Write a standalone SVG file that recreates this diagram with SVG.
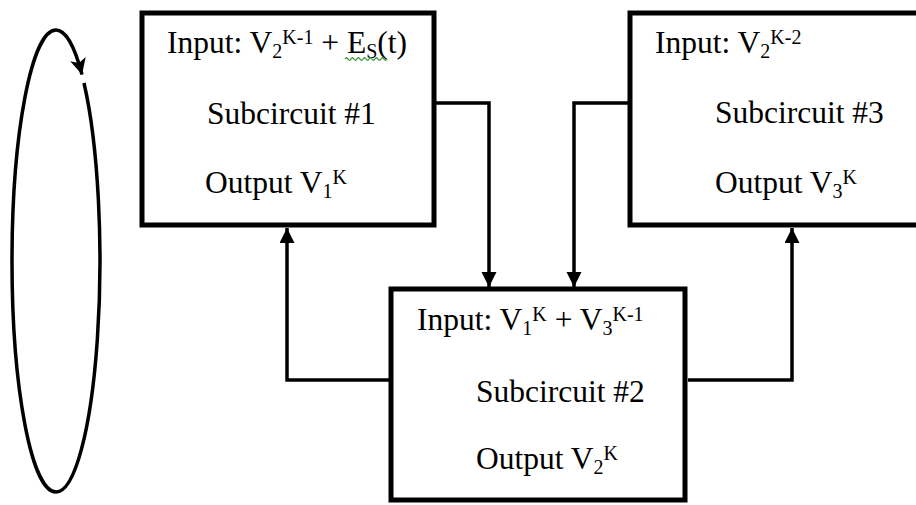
<svg xmlns="http://www.w3.org/2000/svg" width="916" height="505" viewBox="0 0 916 505">
<style>
.box{fill:#fff;stroke:#000;stroke-width:5}
.lbl{font-family:"Liberation Serif","Times New Roman",serif;font-size:31.5px;fill:#000}
.s{font-size:20px}
.conn{fill:none;stroke:#000;stroke-width:3.5;stroke-linejoin:miter}
.loop{fill:none;stroke:#000;stroke-width:3.5}
.squig{fill:none;stroke:#3a9a3a;stroke-width:1.3}
</style>
<defs>
<marker id="ah" markerUnits="userSpaceOnUse" markerWidth="16" markerHeight="16" refX="15" refY="7.5" orient="auto">
<path d="M0,0 L15,7.5 L0,15 z" fill="#000"/>
</marker>
<marker id="ah2" markerUnits="userSpaceOnUse" markerWidth="18" markerHeight="18" refX="16" refY="8" orient="auto">
<path d="M0,0 L16,8 L0,16 L4,8 z" fill="#000"/>
</marker>
</defs>
<rect width="916" height="505" fill="#fff"/>
<g id="connectors">
<path class="conn" d="M436,103 H489 V287" marker-end="url(#ah)"/>
<path class="conn" d="M628,103 H574 V287" marker-end="url(#ah)"/>
<path class="conn" d="M389,380 H287 V228" marker-end="url(#ah)"/>
<path class="conn" d="M688,380 H792 V228" marker-end="url(#ah)"/>
<path class="loop" d="M84,83 A44,231 0 0 1 56,492 A44,231 0 0 1 56,30 A44,231 0 0 1 82,74.6" marker-end="url(#ah2)"/>
</g>
<g id="sub1">
<rect class="box" x="142" y="13" width="292" height="212"/>
<text class="lbl" x="167" y="53">Input: V<tspan class="s" dy="5">2</tspan><tspan class="s" dy="-14">K-1</tspan><tspan dy="9"> + E</tspan><tspan class="s" dy="5">S</tspan><tspan dy="-5">(t)</tspan></text>
<path class="squig" d="M345,59 q1.5,-2.5 3,0 t3,0 t3,0 t3,0 t3,0 t3,0 t3,0 t3,0 t3,0 t3,0 t3,0 t3,0 t3,0 t3,0"/>
<text class="lbl" x="207" y="124">Subcircuit #1</text>
<text class="lbl" x="205" y="193">Output V<tspan class="s" dy="5">1</tspan><tspan class="s" dy="-14">K</tspan></text>
</g>
<g id="sub3">
<rect class="box" x="630" y="13" width="300" height="212"/>
<text class="lbl" x="655" y="53">Input: V<tspan class="s" dy="5">2</tspan><tspan class="s" dy="-14">K-2</tspan></text>
<text class="lbl" x="715" y="123">Subcircuit #3</text>
<text class="lbl" x="715" y="193">Output V<tspan class="s" dy="5">3</tspan><tspan class="s" dy="-14">K</tspan></text>
</g>
<g id="sub2">
<rect class="box" x="391" y="289" width="294" height="211"/>
<text class="lbl" x="417" y="330">Input: V<tspan class="s" dy="5">1</tspan><tspan class="s" dy="-14">K</tspan><tspan dy="9"> + V</tspan><tspan class="s" dy="5">3</tspan><tspan class="s" dy="-14">K-1</tspan></text>
<text class="lbl" x="476" y="402">Subcircuit #2</text>
<text class="lbl" x="476" y="469">Output V<tspan class="s" dy="5">2</tspan><tspan class="s" dy="-14">K</tspan></text>
</g>
</svg>
